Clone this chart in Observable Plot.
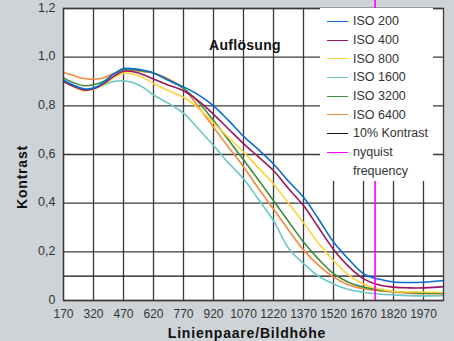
<!DOCTYPE html>
<html>
<head>
<meta charset="utf-8">
<script src="https://cdn.jsdelivr.net/npm/d3@7"></script>
<script src="https://cdn.jsdelivr.net/npm/@observablehq/plot@0.6"></script>
<style>
  html, body { margin: 0; padding: 0; background: #ced3d7; }
  #wrap { position: relative; width: 454px; height: 341px; overflow: hidden; background: #ced3d7;
          font-family: "Liberation Sans", Arial, sans-serif; color: #333; }
  #wrap svg { position: absolute; left: 0; top: 0; }
  .bold { font-family: "Liberation Sans", Arial, sans-serif; font-weight: 900; color: #111; position: absolute; white-space: nowrap; }
  #legend { position: absolute; background: white; left: 320px; top: 8px; width: 113px; height: 173px; padding-top: 4px; box-sizing: border-box; }
  .row { height: 18.7px; display: flex; align-items: center; font-size: 12.5px; white-space: nowrap; }
  .swatch { width: 21px; height: 0; border-top: 1.6px solid; margin-left: 7px; margin-right: 5px; }
  .noswatch { width: 21px; margin-left: 7px; margin-right: 5px; }
</style>
</head>
<body>
<div id="wrap"></div>
<script>
// Line pairs per picture height (x positions of the samples)
const lp = [170,220,270,320,370,420,470,520,570,620,695,770,845,920,995,1070,1145,1220,1295,1370,1445,1520,1595,1670,1745,1820,1895,1970,2070];

const iso200  = [0.905,0.885,0.870,0.873,0.895,0.930,0.953,0.952,0.946,0.935,0.905,0.878,0.845,0.800,0.740,0.675,0.620,0.561,0.490,0.424,0.335,0.240,0.170,0.110,0.088,0.076,0.074,0.075,0.082];
const iso400  = [0.900,0.880,0.865,0.870,0.890,0.920,0.942,0.940,0.928,0.910,0.885,0.862,0.820,0.765,0.705,0.645,0.590,0.534,0.460,0.390,0.300,0.210,0.140,0.089,0.065,0.055,0.052,0.052,0.057];
const iso800  = [0.900,0.878,0.862,0.868,0.885,0.915,0.934,0.930,0.915,0.892,0.862,0.835,0.790,0.730,0.670,0.610,0.545,0.479,0.400,0.320,0.235,0.164,0.105,0.068,0.048,0.037,0.035,0.035,0.033];
const iso1600 = [0.903,0.880,0.865,0.873,0.885,0.900,0.903,0.895,0.875,0.845,0.810,0.770,0.705,0.637,0.565,0.500,0.415,0.328,0.215,0.152,0.100,0.068,0.045,0.034,0.027,0.023,0.020,0.019,0.020];
const iso3200 = [0.915,0.895,0.883,0.887,0.900,0.930,0.949,0.948,0.943,0.935,0.905,0.872,0.815,0.740,0.660,0.578,0.495,0.410,0.325,0.240,0.170,0.110,0.075,0.055,0.043,0.037,0.033,0.030,0.030];
const iso6400 = [0.937,0.925,0.912,0.909,0.915,0.933,0.945,0.945,0.940,0.935,0.910,0.872,0.795,0.712,0.630,0.550,0.460,0.376,0.290,0.208,0.145,0.096,0.065,0.048,0.040,0.035,0.030,0.028,0.027];

const seriesNames  = ["ISO 200","ISO 400","ISO 800","ISO 1600","ISO 3200","ISO 6400"];
const seriesValues = [iso200, iso400, iso800, iso1600, iso3200, iso6400];
const seriesColors = ["#0a6bd8","#9b1660","#ffd23c","#6cc6c4","#3f8c3f","#f3893d"];

const kontrastLevel = [0.1];
const nyquist = [1728];

const xTicks = [170,320,470,620,770,920,1070,1220,1370,1520,1670,1820,1970];
const yTicks = [0,0.2,0.4,0.6,0.8,1.0,1.2];

const titleText = "Auflösung";
const xLabel = "Linienpaare/Bildhöhe";
const yLabel = "Kontrast";
const legendItems = [
  ...seriesNames.map((n, i) => ({label: n, color: seriesColors[i]})),
  {label: "10% Kontrast", color: "#111"},
  {label: "nyquist", color: "#ff00ff"},
  {label: "frequency", color: null}
];

// Tidy table
const rows = [];
seriesNames.forEach((name, i) => {
  lp.forEach((x, j) => rows.push({series: name, lp: x, v: seriesValues[i][j]}));
});
const drawOrder = ["ISO 1600","ISO 6400","ISO 3200","ISO 800","ISO 400","ISO 200"];
rows.sort((a, b) => drawOrder.indexOf(a.series) - drawOrder.indexOf(b.series));

const gridColor = "#3a3a3a";
const chart = Plot.plot({
  width: 454,
  height: 341,
  marginLeft: 63,
  marginRight: 11,
  marginTop: 8,
  marginBottom: 41,
  style: {background: "transparent", fontFamily: "'Liberation Sans', Arial, sans-serif", fontSize: "12px", color: "#333", overflow: "visible"},
  x: {domain: [170, 2070]},
  y: {domain: [0, 1.2]},
  color: {domain: seriesNames, range: seriesColors},
  marks: [
    Plot.frame({fill: "white", stroke: null}),
    Plot.gridX(xTicks, {stroke: gridColor, strokeOpacity: 1, strokeWidth: 1.3}),
    Plot.gridY(yTicks, {stroke: gridColor, strokeOpacity: 1, strokeWidth: 1.3}),
    Plot.axisX(xTicks, {tickSize: 0, tickPadding: 9, tickFormat: d => String(d), label: null, fill: "#333", fontSize: 12}),
    Plot.axisY(yTicks, {tickSize: 0, tickPadding: 8, tickFormat: d => d === 0 ? "0" : d.toFixed(1).replace(".", ","), label: null, fill: "#333", fontSize: 12.5, dy: -1}),
    Plot.ruleY(kontrastLevel, {stroke: "#111", strokeWidth: 1.4}),
    Plot.line(rows, {x: "lp", y: "v", z: "series", stroke: "series", strokeWidth: 1.6, curve: "catmull-rom"}),
    Plot.ruleX(nyquist, {stroke: "#ff00ff", strokeWidth: 1.6, insetTop: -8}),
    Plot.frame({stroke: gridColor, strokeWidth: 1.3})
  ]
});

const wrap = document.getElementById("wrap");
wrap.appendChild(chart);

// Title inside plot
const t = document.createElement("div");
t.className = "bold";
t.textContent = titleText;
t.style.cssText = "left:209px; top:37px; font-size:14px; letter-spacing:0.3px;";
wrap.appendChild(t);

// X label
const xl = document.createElement("div");
xl.className = "bold";
xl.textContent = xLabel;
xl.style.cssText = "left:0; width:494px; text-align:center; top:325px; font-size:14px; letter-spacing:0.8px;";
wrap.appendChild(xl);

// Y label (rotated)
const yl = document.createElement("div");
yl.className = "bold";
yl.textContent = yLabel;
yl.style.cssText = "left:22px; top:177px; font-size:14px; letter-spacing:0.8px; transform: translate(-50%, -50%) rotate(-90deg);";
wrap.appendChild(yl);

// Legend
const lg = document.createElement("div");
lg.id = "legend";
legendItems.forEach(it => {
  const r = document.createElement("div");
  r.className = "row";
  const s = document.createElement("div");
  if (it.color) { s.className = "swatch"; s.style.borderTopColor = it.color; }
  else { s.className = "noswatch"; }
  r.appendChild(s);
  const tx = document.createElement("span");
  tx.textContent = it.label;
  r.appendChild(tx);
  lg.appendChild(r);
});
wrap.appendChild(lg);
</script>
</body>
</html>
